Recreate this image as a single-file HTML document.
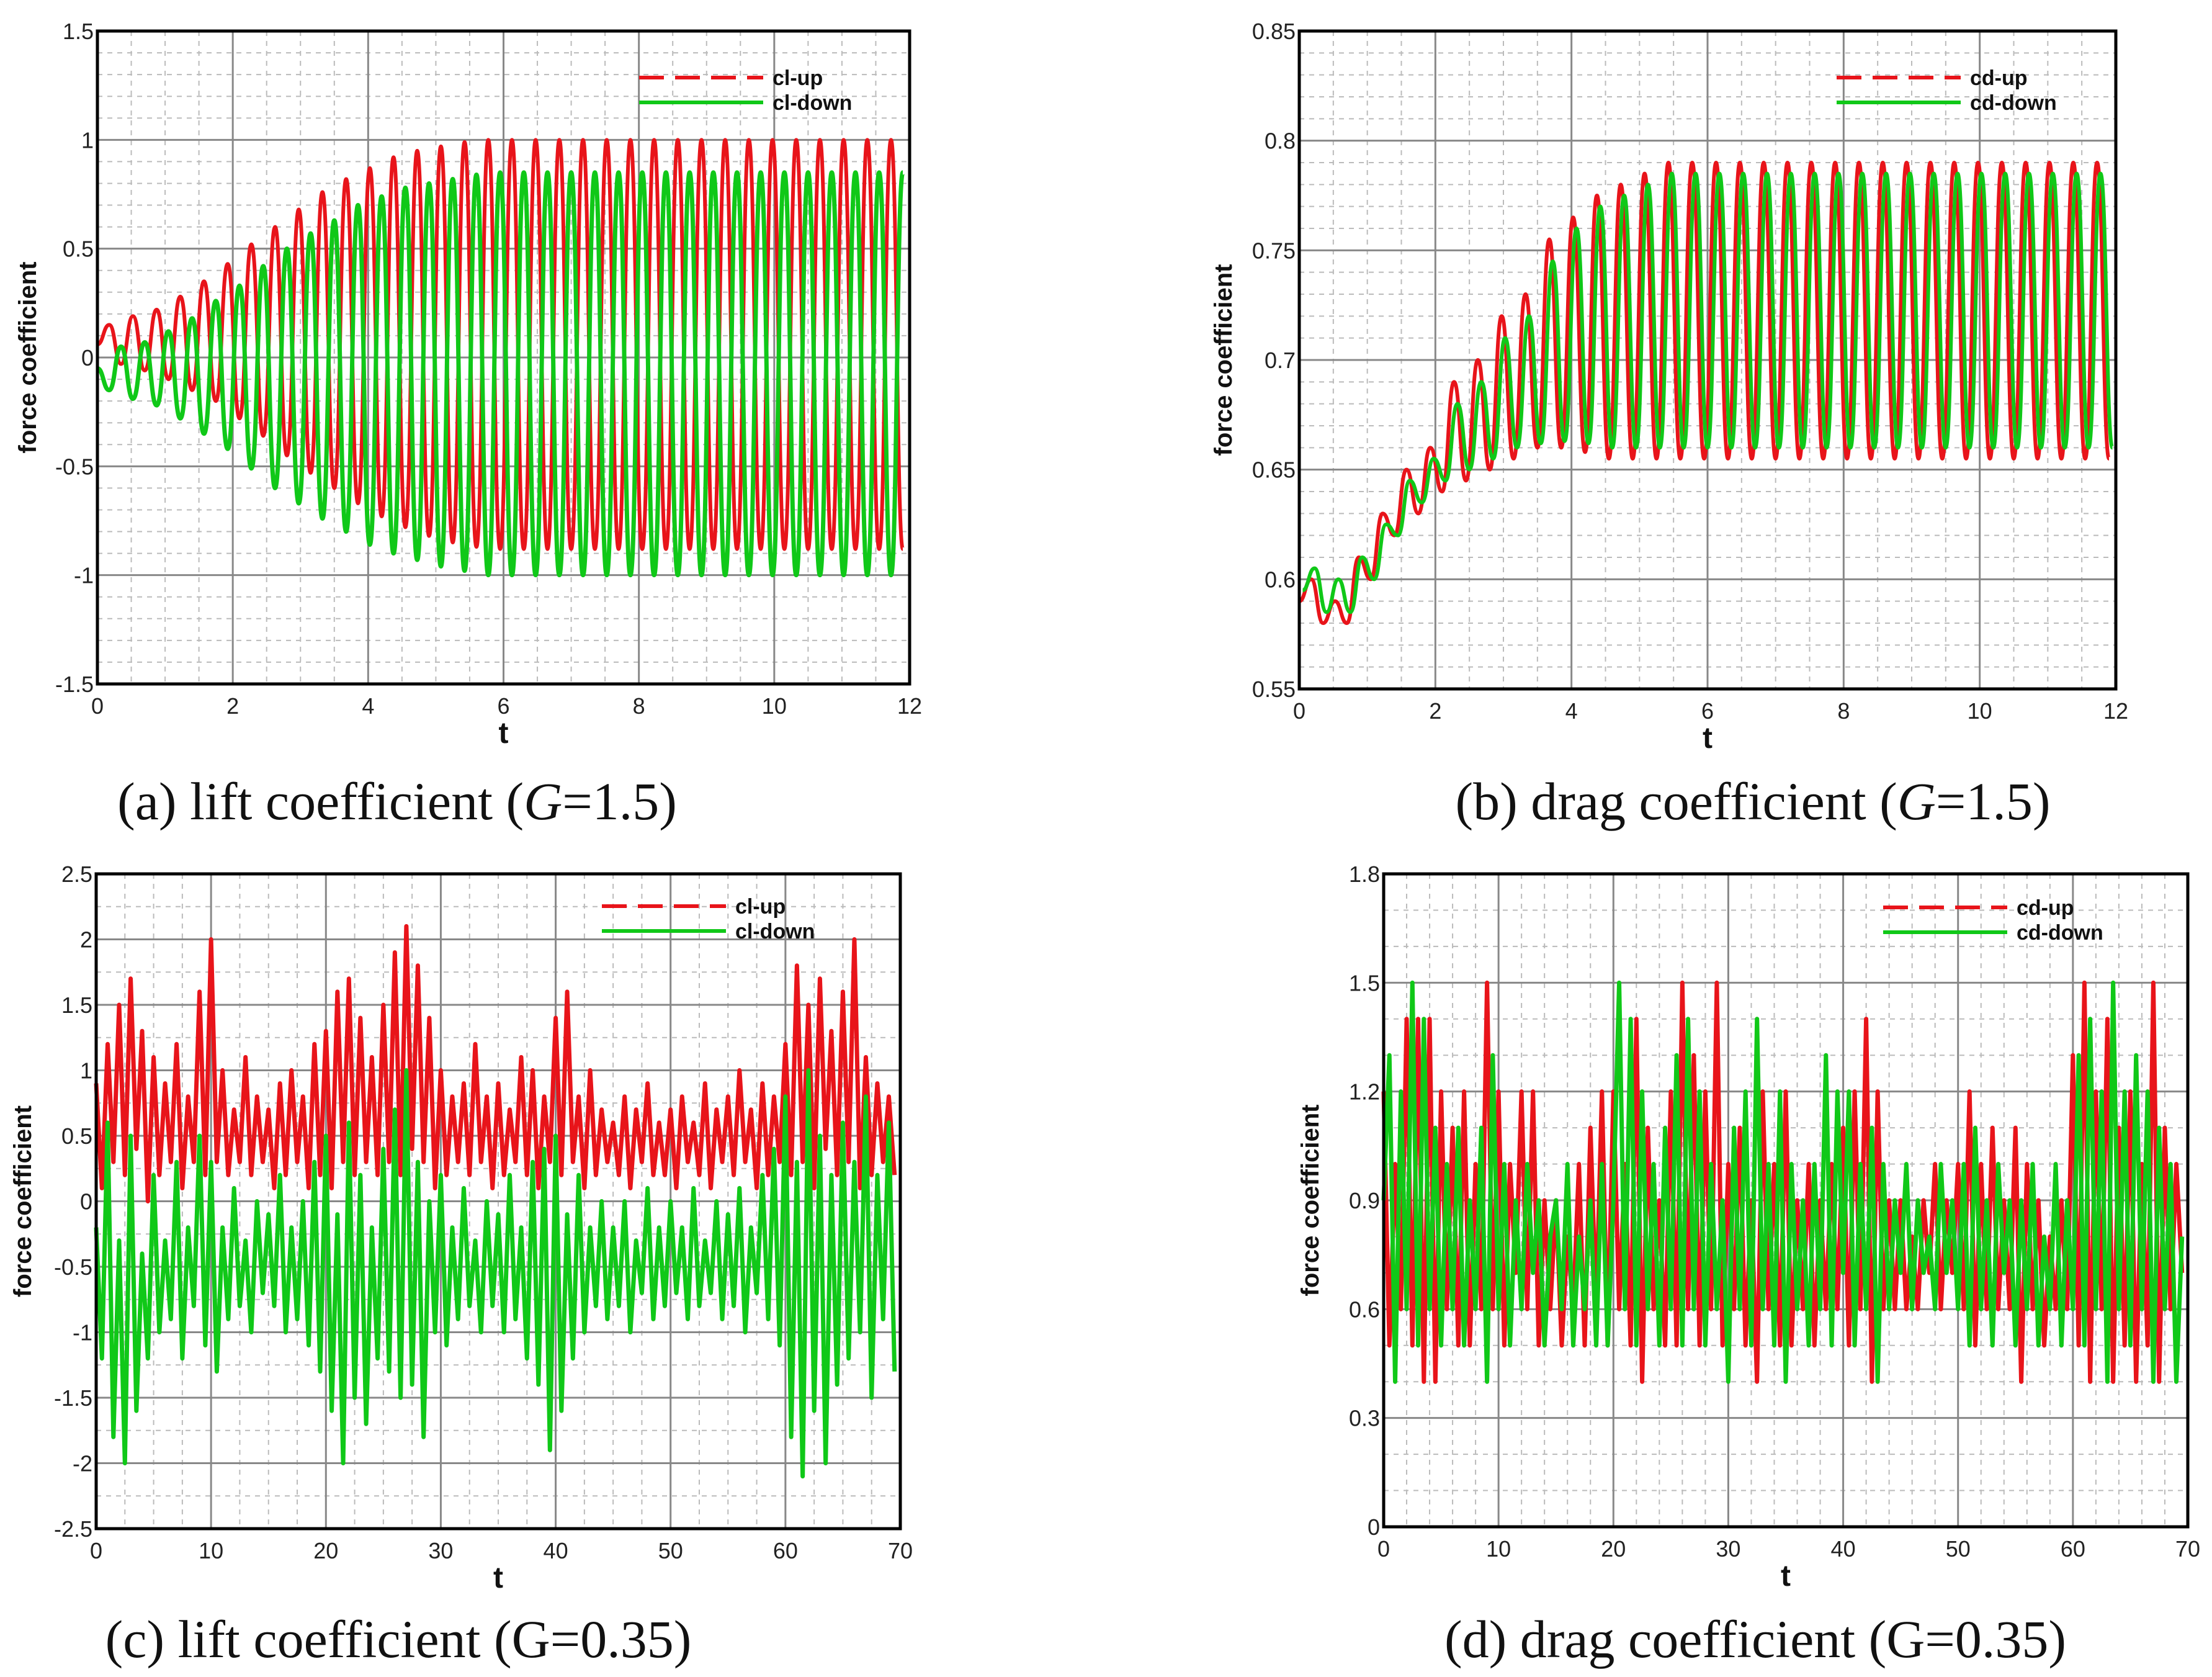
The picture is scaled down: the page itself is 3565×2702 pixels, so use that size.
<!DOCTYPE html>
<html><head><meta charset="utf-8">
<style>
html,body{margin:0;padding:0;background:#fff;}
body{width:3565px;height:2702px;position:relative;overflow:hidden;}
svg{position:absolute;left:0;top:0;}
.tick{font-family:"Liberation Sans",sans-serif;font-size:36px;fill:#222;}
.ttl{font-family:"Liberation Sans",sans-serif;font-weight:bold;fill:#111;}
.cap{font-family:"Liberation Serif",serif;font-size:86px;fill:#111;}
</style></head>
<body>
<svg id="fig" width="3565" height="2702" viewBox="0 0 3565 2702">
<text class="cap" x="640" y="1320" text-anchor="middle">(a) lift coefficient (<tspan font-style="italic">G</tspan>=1.5)</text>
<text class="cap" x="2825" y="1320" text-anchor="middle">(b) drag coefficient (<tspan font-style="italic">G</tspan>=1.5)</text>
<text class="cap" x="642" y="2670" text-anchor="middle">(c) lift coefficient (G=0.35)</text>
<text class="cap" x="2829" y="2670" text-anchor="middle">(d) drag coefficient (G=0.35)</text>
</svg>
<script>
// ---- data (a) lift G=1.5 : per-cycle extrema ----
const aPeriod = 0.35;
const aUpMax = [0.15,0.19,0.22,0.28,0.35,0.43,0.52,0.60,0.68,0.76,0.82,0.87,0.92,0.95,0.97,0.99,1,1,1,1,1,1,1,1,1,1,1,1,1,1,1,1,1,1];
const aUpMin = [-0.03,-0.06,-0.1,-0.15,-0.2,-0.28,-0.36,-0.45,-0.53,-0.6,-0.67,-0.73,-0.78,-0.82,-0.85,-0.87,-0.88,-0.88,-0.88,-0.88,-0.88,-0.88,-0.88,-0.88,-0.88,-0.88,-0.88,-0.88,-0.88,-0.88,-0.88,-0.88,-0.88,-0.88];
const aDownMax = [0.05,0.07,0.12,0.18,0.26,0.33,0.42,0.5,0.57,0.63,0.7,0.74,0.78,0.8,0.82,0.84,0.85,0.85,0.85,0.85,0.85,0.85,0.85,0.85,0.85,0.85,0.85,0.85,0.85,0.85,0.85,0.85,0.85,0.85];
const aDownMin = [-0.15,-0.19,-0.22,-0.28,-0.35,-0.42,-0.51,-0.6,-0.67,-0.74,-0.8,-0.86,-0.9,-0.93,-0.96,-0.98,-1,-1,-1,-1,-1,-1,-1,-1,-1,-1,-1,-1,-1,-1,-1,-1,-1,-1];
// ---- data (b) drag G=1.5 ----
const bPeriod = 0.35;
const bUpMax = [0.60,0.59,0.61,0.63,0.65,0.66,0.69,0.70,0.72,0.73,0.755,0.765,0.775,0.78,0.785,0.79,0.79,0.79,0.79,0.79,0.79,0.79,0.79,0.79,0.79,0.79,0.79,0.79,0.79,0.79,0.79,0.79,0.79,0.79];
const bUpMin = [0.58,0.58,0.60,0.62,0.63,0.64,0.645,0.65,0.655,0.66,0.66,0.658,0.655,0.655,0.655,0.655,0.655,0.655,0.655,0.655,0.655,0.655,0.655,0.655,0.655,0.655,0.655,0.655,0.655,0.655,0.655,0.655,0.655,0.655];
const bDownMax = [0.605,0.6,0.61,0.625,0.645,0.655,0.68,0.69,0.71,0.72,0.745,0.76,0.77,0.775,0.78,0.785,0.785,0.785,0.785,0.785,0.785,0.785,0.785,0.785,0.785,0.785,0.785,0.785,0.785,0.785,0.785,0.785,0.785,0.785];
const bDownMin = [0.585,0.585,0.6,0.62,0.635,0.645,0.65,0.655,0.66,0.662,0.663,0.662,0.66,0.66,0.66,0.66,0.66,0.66,0.66,0.66,0.66,0.66,0.66,0.66,0.66,0.66,0.66,0.66,0.66,0.66,0.66,0.66,0.66,0.66];
// ---- data (c) lift G=0.35, sampled every 0.5 ----
const cStep = 0.5;
const cUp = [0.9,0.1,1.2,0.3,1.5,0.2,1.7,0.4,1.3,0.0, 1.1,0.2,0.9,0.3,1.2,0.1,0.8,0.3,1.6,0.2,
 2.0,0.3,1.0,0.2,0.7,0.3,1.1,0.2,0.8,0.3, 0.7,0.1,0.9,0.2,1.0,0.3,0.8,0.1,1.2,0.2,
 1.3,0.1,1.6,0.3,1.7,0.2,1.4,0.3,1.1,0.2, 1.5,0.3,1.9,0.2,2.1,0.4,1.8,0.3,1.4,0.1,
 1.0,0.2,0.8,0.3,0.9,0.2,1.2,0.3,0.8,0.1, 0.9,0.2,0.7,0.3,1.1,0.2,1.0,0.1,0.8,0.3,
 1.4,0.2,1.6,0.3,0.8,0.1,1.0,0.2,0.7,0.3, 0.6,0.2,0.8,0.1,0.7,0.3,0.9,0.2,0.6,0.2,
 0.7,0.1,0.8,0.3,0.6,0.2,0.9,0.1,0.7,0.3, 0.8,0.2,1.0,0.3,0.7,0.1,0.9,0.2,0.8,0.3,
 1.2,0.2,1.8,0.3,1.5,0.1,1.7,0.4,1.3,0.2, 1.6,0.3,2.0,0.1,1.1,0.2,0.9,0.3,0.8,0.2];
const cDown = [-0.2,-1.2,0.6,-1.8,-0.3,-2.0,0.5,-1.6,-0.4,-1.2, 0.2,-1.0,-0.3,-0.9,0.3,-1.2,-0.2,-0.8,0.5,-1.1,
 0.3,-1.3,-0.2,-0.9,0.1,-0.8,-0.3,-1.0,0.0,-0.7, -0.1,-0.8,0.2,-1.0,-0.2,-0.9,0.0,-1.1,0.3,-1.3,
 0.5,-1.6,-0.1,-2.0,0.6,-1.5,0.2,-1.7,-0.2,-1.2, 0.4,-1.3,0.7,-1.5,1.0,-1.4,0.3,-1.8,0.0,-1.0,
 0.2,-1.1,-0.2,-0.9,0.1,-0.8,-0.3,-1.0,0.0,-0.8, -0.1,-1.0,0.2,-0.9,-0.2,-1.2,0.3,-1.4,0.4,-1.9,
 0.5,-1.6,-0.1,-1.2,0.2,-1.0,-0.2,-0.8,0.0,-0.9, -0.2,-0.8,0.0,-1.0,-0.3,-0.7,0.1,-0.9,-0.2,-0.8,
 0.0,-0.7,-0.2,-0.9,0.1,-0.8,-0.3,-0.7,0.0,-0.9, -0.1,-0.8,0.1,-1.0,-0.2,-0.7,0.2,-0.9,0.4,-1.1,
 0.8,-1.8,0.3,-2.1,1.0,-1.6,0.5,-2.0,0.2,-1.4, 0.6,-1.2,0.3,-1.0,0.8,-1.5,0.2,-0.9,0.6,-1.3];
// ---- data (d) drag G=0.35 ----
const dStep = 0.5;
const dUp = [1.2,0.5,1.0,0.6,1.4,0.5,1.4,0.4,1.4,0.4, 1.2,0.6,1.1,0.5,1.2,0.5,1.0,0.6,1.5,0.6,
 1.2,0.5,1.0,0.7,1.2,0.6,1.2,0.5,0.9,0.6, 0.9,0.5,0.8,0.6,1.0,0.5,1.1,0.6,1.2,0.5,
 1.2,0.6,1.0,0.5,1.4,0.4,1.1,0.6,0.9,0.5, 1.2,0.5,1.5,0.6,1.3,0.5,1.2,0.6,1.5,0.5,
 1.0,0.6,1.1,0.5,0.9,0.4,1.2,0.6,1.0,0.5, 1.2,0.5,0.9,0.6,1.0,0.5,0.9,0.6,1.0,0.6,
 1.1,0.5,1.2,0.6,1.4,0.4,1.2,0.6,0.9,0.6, 0.9,0.6,0.8,0.6,0.9,0.7,1.0,0.6,0.9,0.7,
 1.0,0.6,1.2,0.5,1.0,0.6,1.1,0.6,0.9,0.6, 1.1,0.4,1.0,0.6,0.9,0.5,0.8,0.6,0.9,0.6,
 1.3,0.5,1.5,0.4,1.2,0.6,1.4,0.4,1.1,0.5, 1.2,0.4,1.0,0.5,1.5,0.4,1.1,0.6,1.0,0.7];
const dDown = [0.9,1.3,0.4,1.2,0.6,1.5,0.5,1.4,0.6,1.1, 0.5,1.0,0.6,1.1,0.5,0.9,0.6,1.1,0.4,1.3,
 0.6,1.0,0.5,0.9,0.6,1.0,0.7,0.9,0.5,0.8, 0.9,0.6,1.0,0.5,0.8,0.6,0.9,0.5,1.0,0.5,
 0.9,1.5,0.6,1.4,0.5,1.2,0.6,1.0,0.5,1.1, 0.6,1.3,0.5,1.4,0.6,1.2,0.5,1.0,0.6,0.9,
 0.4,1.1,0.6,1.2,0.5,1.4,0.6,1.0,0.5,1.2, 0.4,1.0,0.6,0.9,0.5,1.0,0.6,1.3,0.5,1.2,
 0.7,1.2,0.5,1.0,0.6,1.1,0.4,1.0,0.6,0.9, 0.7,1.0,0.6,0.9,0.7,0.8,0.6,1.0,0.7,0.9,
 0.6,1.0,0.5,1.1,0.6,0.9,0.5,1.0,0.7,0.9, 0.5,0.9,0.6,1.0,0.5,0.8,0.6,1.0,0.5,0.9,
 0.6,1.3,0.5,1.4,0.6,1.2,0.4,1.5,0.6,1.2, 0.5,1.3,0.6,1.2,0.4,1.1,0.6,1.0,0.4,0.8];
// tick labels
const aXTicks = [0,2,4,6,8,10,12];
const aYTicks = ["-1.5","-1","-0.5","0","0.5","1","1.5"];
const bXTicks = [0,2,4,6,8,10,12];
const bYTicks = ["0.55","0.6","0.65","0.7","0.75","0.8","0.85"];
const cXTicks = [0,10,20,30,40,50,60,70];
const cYTicks = ["-2.5","-2","-1.5","-1","-0.5","0","0.5","1","1.5","2","2.5"];
const dXTicks = [0,10,20,30,40,50,60,70];
const dYTicks = ["0","0.3","0.6","0.9","1.2","1.5","1.8"];

const NS = "http://www.w3.org/2000/svg";
const fig = document.getElementById('fig');
function mk(tag, attrs, parent){const e=document.createElementNS(NS,tag);for(const k in attrs)e.setAttribute(k,attrs[k]);(parent||fig).appendChild(e);return e;}

function panel(cfg){
  const g = mk('g',{});
  
  
  const {x0,x1,y0,y1,xmin,xmax,ymin,ymax} = cfg;
  const X = v => x0 + (v-xmin)/(xmax-xmin)*(x1-x0);
  const Y = v => y1 - (v-ymin)/(ymax-ymin)*(y1-y0);
  for(let v=xmin; v<=xmax+1e-9; v+=cfg.xMinor){
    const l = mk('line',{x1:X(v),x2:X(v),y1:y0,y2:y1,stroke:'#bbb','stroke-width':2,'stroke-dasharray':'8,8'},g);
     
  }
  for(let v=ymin; v<=ymax+1e-9; v+=cfg.yMinor){
    const l = mk('line',{x1:x0,x2:x1,y1:Y(v),y2:Y(v),stroke:'#bbb','stroke-width':2,'stroke-dasharray':'8,8'},g);
     
  }
  cfg.xTicks.forEach(v=>{
    const l = mk('line',{x1:X(v),x2:X(v),y1:y0,y2:y1,stroke:'#888','stroke-width':3},g);
     
    const t = mk('text',{x:X(v),y:y1+48,'text-anchor':'middle',class:'tick'},g);
    t.textContent = v;
     
  });
  cfg.yTicks.forEach(s=>{
    const v = parseFloat(s);
    const l = mk('line',{x1:x0,x2:x1,y1:Y(v),y2:Y(v),stroke:'#888','stroke-width':3},g);
     
    const t = mk('text',{x:x0-6,y:Y(v)+13,'text-anchor':'end',class:'tick'},g);
    t.textContent = s;
     
  });
  cfg.series.forEach(s=>{
    const p = mk('path',{d:s.d(X,Y),fill:'none',stroke:s.color,'stroke-width':s.w,'stroke-linejoin':'round'},g);
    
    
  });
  const fr = mk('rect',{x:x0,y:y0,width:x1-x0,height:y1-y0,fill:'none',stroke:'#000','stroke-width':5},g);
   
  const xt = mk('text',{x:(x0+x1)/2,y:y1+95,'text-anchor':'middle',class:'ttl','font-size':48},g);
  xt.textContent='t';
   
  const yt = mk('text',{x:0,y:0,'text-anchor':'middle',class:'ttl','font-size':40,transform:`translate(${cfg.ytx},${(y0+y1)/2}) rotate(-90)`},g);
  yt.textContent='force coefficient';
   
  const lg = mk('g',{},g);
   
  cfg.legend.forEach((e,i)=>{
    const yy = cfg.legY + i*40;
    const l = mk('line',{x1:cfg.legX,x2:cfg.legX+200,y1:yy,y2:yy,stroke:e.color,'stroke-width':6,'stroke-dasharray':e.dash||''},lg);
     
    const t = mk('text',{x:cfg.legX+215,y:yy+12,class:'ttl','font-size':34,fill:'#222'},lg);
    t.textContent = e.label;
     
  });
}

function osc(maxArr,minArr,period,t0,maxFirst){
  return (X,Y)=>{
    const pts=[[t0,(maxArr[0]+minArr[0])/2]];
    for(let i=0;i<maxArr.length;i++){
      const a = maxFirst?maxArr[i]:minArr[i], b = maxFirst?minArr[i]:maxArr[i];
      pts.push([t0+(i+0.5)*period,a]); pts.push([t0+(i+1)*period,b]);
    }
    let d=`M${X(pts[0][0])},${Y(pts[0][1])}`;
    for(let i=1;i<pts.length;i++){
      const xa=X(pts[i-1][0]),xb=X(pts[i][0]),ya=Y(pts[i-1][1]),yb=Y(pts[i][1]);
      const m=(xa+xb)/2;
      d+=` C${m},${ya} ${m},${yb} ${xb},${yb}`;
    }
    return d;
  };
}
function noisy(arr,step){
  return (X,Y)=>arr.map((v,i)=>(i?'L':'M')+X(i*step)+','+Y(v)).join(' ');
}

panel({name:'chart-a-lift',x0:157,x1:1466,y0:50,y1:1102,xmin:0,xmax:12,ymin:-1.5,ymax:1.5,xMinor:0.5,yMinor:0.1,
  xTicks:aXTicks,yTicks:aYTicks,ytx:58,legX:1030,legY:125,
  legend:[{label:'cl-up',color:'#e8141a',dash:'40,18'},{label:'cl-down',color:'#10c818'}],
  series:[{name:'cl-up-line',color:'#e8141a',w:6,d:osc(aUpMax,aUpMin,aPeriod,0,true)},
          {name:'cl-down-line',color:'#10c818',w:7,d:osc(aDownMax,aDownMin,aPeriod,0,false)}]});
panel({name:'chart-b-drag',x0:2094,x1:3410,y0:50,y1:1110,xmin:0,xmax:12,ymin:0.55,ymax:0.85,xMinor:0.5,yMinor:0.01,
  xTicks:bXTicks,yTicks:bYTicks,ytx:1985,legX:2960,legY:125,
  legend:[{label:'cd-up',color:'#e8141a',dash:'40,18'},{label:'cd-down',color:'#10c818'}],
  series:[{name:'cd-up-line',color:'#e8141a',w:6,d:osc(bUpMax,bUpMin,bPeriod,0,true)},
          {name:'cd-down-line',color:'#10c818',w:6,d:osc(bDownMax,bDownMin,bPeriod,0.05,true)}]});
panel({name:'chart-c-lift',x0:155,x1:1451,y0:1408,y1:2463,xmin:0,xmax:70,ymin:-2.5,ymax:2.5,xMinor:2.5,yMinor:0.25,
  xTicks:cXTicks,yTicks:cYTicks,ytx:50,legX:970,legY:1460,
  legend:[{label:'cl-up',color:'#e8141a',dash:'40,18'},{label:'cl-down',color:'#10c818'}],
  series:[{name:'cl-up-line',color:'#e8141a',w:7,d:noisy(cUp,cStep)},
          {name:'cl-down-line',color:'#10c818',w:7,d:noisy(cDown,cStep)}]});
panel({name:'chart-d-drag',x0:2230,x1:3526,y0:1408,y1:2460,xmin:0,xmax:70,ymin:0,ymax:1.8,xMinor:2,yMinor:0.1,
  xTicks:dXTicks,yTicks:dYTicks,ytx:2125,legX:3035,legY:1462,
  legend:[{label:'cd-up',color:'#e8141a',dash:'40,18'},{label:'cd-down',color:'#10c818'}],
  series:[{name:'cd-up-line',color:'#e8141a',w:7,d:noisy(dUp,dStep)},
          {name:'cd-down-line',color:'#10c818',w:7,d:noisy(dDown,dStep)}]});
</script>
</body></html>
